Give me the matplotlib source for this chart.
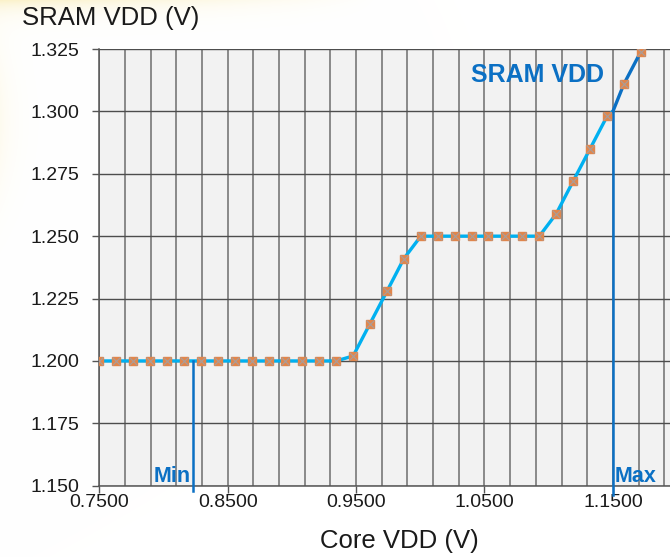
import matplotlib
matplotlib.use("Agg")
import matplotlib.pyplot as plt
import numpy as np
from matplotlib.ticker import MultipleLocator, FixedLocator, FormatStrFormatter

plt.rcParams['font.family'] = ['Liberation Sans', 'DejaVu Sans']

# Core VDD readings (V) and the SRAM VDD set for each
core_vdd = [0.7500, 0.7632, 0.7764, 0.7895, 0.8027, 0.8159, 0.8291, 0.8423,
            0.8554, 0.8686, 0.8818, 0.8950, 0.9082, 0.9213, 0.9345, 0.9477,
            0.9609, 0.9741, 0.9872, 1.0004, 1.0136, 1.0268, 1.0400, 1.0531,
            1.0663, 1.0795, 1.0927, 1.1059, 1.1190, 1.1322, 1.1454, 1.1586,
            1.1718]
sram_vdd = [1.200, 1.200, 1.200, 1.200, 1.200, 1.200, 1.200, 1.200,
            1.200, 1.200, 1.200, 1.200, 1.200, 1.200, 1.200, 1.202,
            1.215, 1.228, 1.241, 1.250, 1.250, 1.250, 1.250, 1.250,
            1.250, 1.250, 1.250, 1.259, 1.272, 1.285, 1.298, 1.311,
            1.324]
x_ticks = [0.75, 0.85, 0.95, 1.05, 1.15]
vmin_core, vmin_sram = 0.8227, 1.200
vmax_core, vmax_sram = 1.150, 1.300

light_blue = '#00B0F0'
dark_blue = '#0B70C4'

fig = plt.figure(figsize=(6.7, 5.57), dpi=100)

# faint slide background tint at top-left
bg = fig.add_axes([0, 0, 1, 1], zorder=-10)
yy, xx = np.mgrid[0:557, 0:670]
tint = np.exp(-(yy / 10.0)) * np.clip(1 - xx / 380.0, 0, 1) * 0.5
tint += np.exp(-(xx / 14.0)) * np.exp(-((yy - 120) / 80.0) ** 2) * 0.15
tint = np.clip(tint, 0, 1)
img = np.ones((557, 670, 3))
img[..., 0] = 1 - tint * 0.03
img[..., 1] = 1 - tint * 0.10
img[..., 2] = 1 - tint * 0.40
bg.imshow(img, aspect='auto', extent=[0, 1, 0, 1])
bg.axis('off')

ax = fig.add_axes([0.1482, 0.128, 0.8624, 0.784])
ax.set_facecolor('#F2F2F2')

x = np.array(core_vdd)
y = np.array(sram_vdd)
# split the curve at the Max point: light blue before, darker blue after
lo = x <= vmax_core
x_lo = np.append(x[lo], vmax_core)
y_lo = np.append(y[lo], vmax_sram)
x_hi = np.insert(x[~lo], 0, vmax_core)
y_hi = np.insert(y[~lo], 0, vmax_sram)
ax.plot(x_lo, y_lo, color=light_blue, lw=2.4, zorder=3, solid_capstyle='round')
ax.plot(x_hi, y_hi, color=dark_blue, lw=2.4, zorder=3, solid_capstyle='round')
ax.plot(x, y, ls='none', marker='s', ms=5.5, mfc='#E0864C', mec='#E0864C', zorder=4)
ax.plot(x, y, ls='none', marker='x', ms=6, mew=0.8, color='#9AA4B0', alpha=0.8, zorder=5)

# Min / Max markers
ax.plot([vmin_core, vmin_core], [vmin_sram, 1.1478], color=dark_blue, lw=1.8,
        zorder=3, clip_on=False)
ax.plot([vmax_core, vmax_core], [vmax_sram, 1.1462], color=dark_blue, lw=1.8,
        zorder=3, clip_on=False)
ax.text(vmin_core - 0.0015, 1.1535, 'Min', color=dark_blue, fontsize=15.5,
        fontweight='bold', ha='right', va='center', zorder=6)
ax.text(vmax_core + 0.0015, 1.1535, 'Max', color=dark_blue, fontsize=15.5,
        fontweight='bold', ha='left', va='center', zorder=6)
ax.text(1.0395, 1.3146, 'SRAM VDD', color=dark_blue, fontsize=18,
        fontweight='bold', ha='left', va='center', zorder=6)

ax.set_xlim(0.75, 1.2)
ax.set_ylim(1.150, 1.325)
ax.xaxis.set_major_locator(FixedLocator(x_ticks))
ax.xaxis.set_minor_locator(MultipleLocator(0.02, offset=0.01))
ax.yaxis.set_major_locator(MultipleLocator(0.025))
ax.xaxis.set_major_formatter(FormatStrFormatter('%.4f'))
ax.yaxis.set_major_formatter(FormatStrFormatter('%.3f'))
ax.grid(which='major', axis='y', color='#4D4D4D', lw=1.0, zorder=1)
ax.grid(which='both', axis='x', color='#6E6E6E', lw=1.1, zorder=1)
ax.set_axisbelow(True)

for s in ['top', 'right']:
    ax.spines[s].set_visible(False)
for s in ['left', 'bottom']:
    ax.spines[s].set_color('#555555')
    ax.spines[s].set_linewidth(1.1)

ax.tick_params(axis='both', which='major', labelsize=14, length=5, width=1,
               color='#555555', labelcolor='#1A1A1A')
ax.tick_params(axis='x', which='major', pad=1)
ax.tick_params(axis='y', which='major', pad=9)
ax.tick_params(axis='x', which='minor', length=0)

ax.set_xlabel('Core VDD (V)', fontsize=18.5, color='#1A1A1A', va='center')
ax.xaxis.set_label_coords(0.5187, -0.1266)
fig.text(0.033, 0.967, 'SRAM VDD (V)', fontsize=18.5, color='#1A1A1A',
         ha='left', va='center')

fig.savefig('out.png', dpi=100)
